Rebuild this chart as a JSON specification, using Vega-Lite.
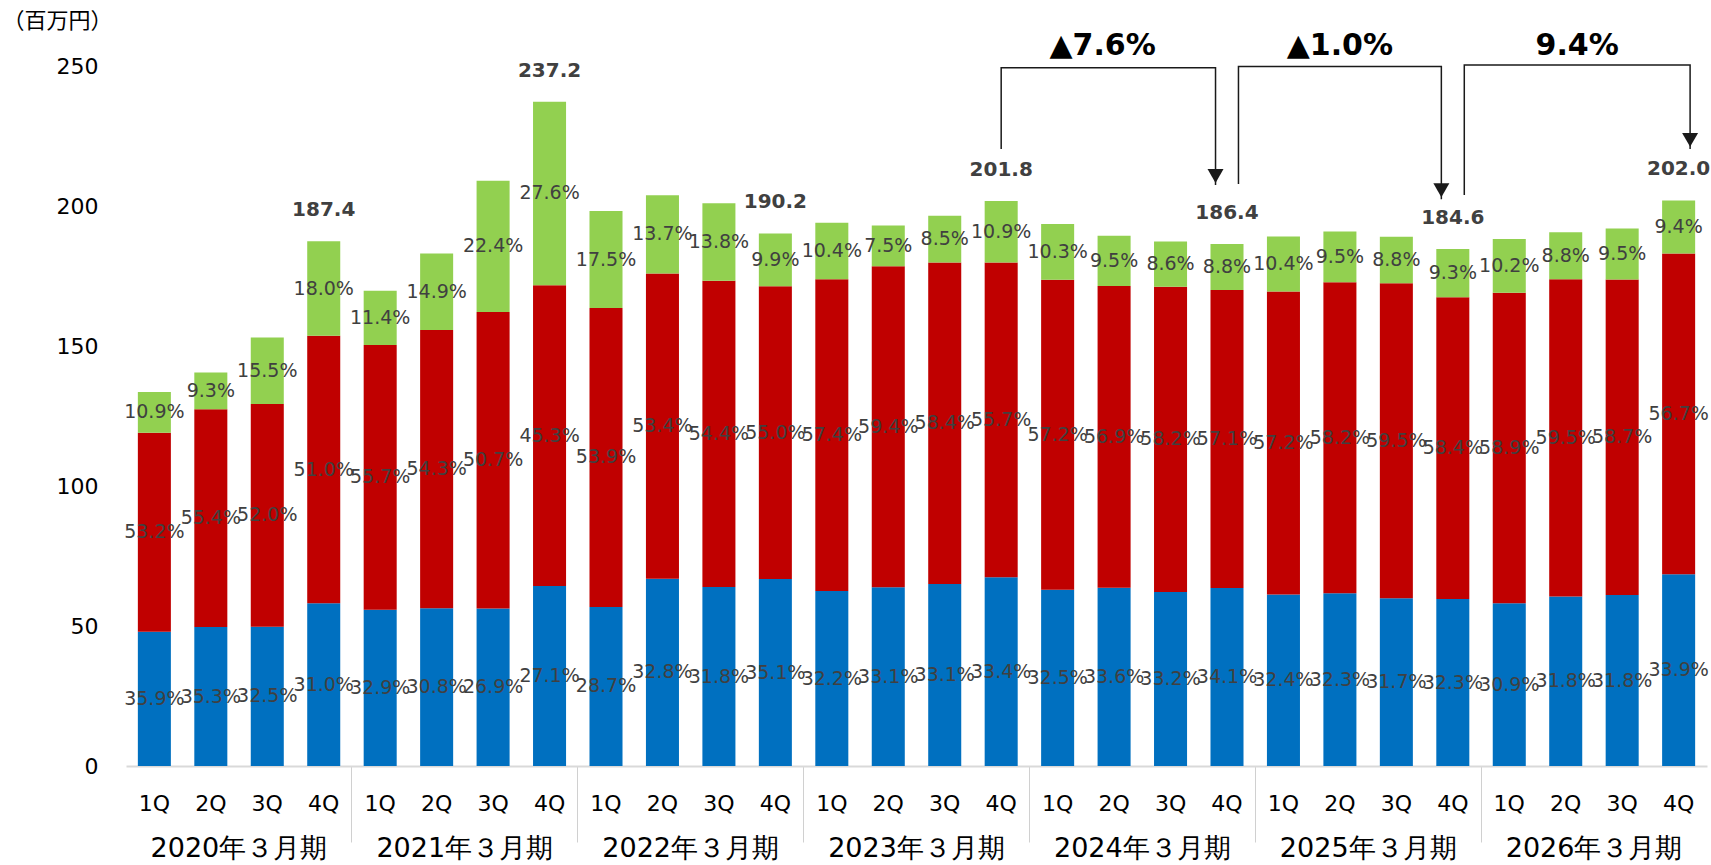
{
  "$schema": "https://vega.github.io/schema/vega-lite/v6.json",
  "width": 1581,
  "height": 700,
  "autosize": {"type": "none"},
  "padding": {"left": 126, "top": 66, "right": 4, "bottom": 99},
  "background": "white",
  "config": {"view": {"stroke": null}, "font": "DejaVu Sans", "axis": {"labelFont": "DejaVu Sans"}},
  "datasets": {
    "bars": [
      {"k":"2020|1Q","s":"a","v":47.96,"p":0.359},{"k":"2020|1Q","s":"b","v":71.08,"p":0.532},{"k":"2020|1Q","s":"c","v":14.56,"p":0.109},
      {"k":"2020|2Q","s":"a","v":49.60,"p":0.353},{"k":"2020|2Q","s":"b","v":77.84,"p":0.554},{"k":"2020|2Q","s":"c","v":13.07,"p":0.093},
      {"k":"2020|3Q","s":"a","v":49.73,"p":0.325},{"k":"2020|3Q","s":"b","v":79.56,"p":0.520},{"k":"2020|3Q","s":"c","v":23.72,"p":0.155},
      {"k":"2020|4Q","s":"a","v":58.09,"p":0.310},{"k":"2020|4Q","s":"b","v":95.57,"p":0.510},{"k":"2020|4Q","s":"c","v":33.73,"p":0.180},
      {"k":"2021|1Q","s":"a","v":55.83,"p":0.329},{"k":"2021|1Q","s":"b","v":94.52,"p":0.557},{"k":"2021|1Q","s":"c","v":19.35,"p":0.114},
      {"k":"2021|2Q","s":"a","v":56.36,"p":0.308},{"k":"2021|2Q","s":"b","v":99.37,"p":0.543},{"k":"2021|2Q","s":"c","v":27.27,"p":0.149},
      {"k":"2021|3Q","s":"a","v":56.22,"p":0.269},{"k":"2021|3Q","s":"b","v":105.96,"p":0.507},{"k":"2021|3Q","s":"c","v":46.82,"p":0.224},
      {"k":"2021|4Q","s":"a","v":64.28,"p":0.271},{"k":"2021|4Q","s":"b","v":107.45,"p":0.453},{"k":"2021|4Q","s":"c","v":65.47,"p":0.276},
      {"k":"2022|1Q","s":"a","v":56.83,"p":0.287},{"k":"2022|1Q","s":"b","v":106.72,"p":0.539},{"k":"2022|1Q","s":"c","v":34.65,"p":0.175},
      {"k":"2022|2Q","s":"a","v":66.91,"p":0.328},{"k":"2022|2Q","s":"b","v":108.94,"p":0.534},{"k":"2022|2Q","s":"c","v":27.95,"p":0.137},
      {"k":"2022|3Q","s":"a","v":63.92,"p":0.318},{"k":"2022|3Q","s":"b","v":109.34,"p":0.544},{"k":"2022|3Q","s":"c","v":27.74,"p":0.138},
      {"k":"2022|4Q","s":"a","v":66.76,"p":0.351},{"k":"2022|4Q","s":"b","v":104.61,"p":0.550},{"k":"2022|4Q","s":"c","v":18.83,"p":0.099},
      {"k":"2023|1Q","s":"a","v":62.47,"p":0.322},{"k":"2023|1Q","s":"b","v":111.36,"p":0.574},{"k":"2023|1Q","s":"c","v":20.18,"p":0.104},
      {"k":"2023|2Q","s":"a","v":63.88,"p":0.331},{"k":"2023|2Q","s":"b","v":114.64,"p":0.594},{"k":"2023|2Q","s":"c","v":14.48,"p":0.075},
      {"k":"2023|3Q","s":"a","v":65.04,"p":0.331},{"k":"2023|3Q","s":"b","v":114.76,"p":0.584},{"k":"2023|3Q","s":"c","v":16.70,"p":0.085},
      {"k":"2023|4Q","s":"a","v":67.40,"p":0.334},{"k":"2023|4Q","s":"b","v":112.40,"p":0.557},{"k":"2023|4Q","s":"c","v":22.00,"p":0.109},
      {"k":"2024|1Q","s":"a","v":62.92,"p":0.325},{"k":"2024|1Q","s":"b","v":110.74,"p":0.572},{"k":"2024|1Q","s":"c","v":19.94,"p":0.103},
      {"k":"2024|2Q","s":"a","v":63.64,"p":0.336},{"k":"2024|2Q","s":"b","v":107.77,"p":0.569},{"k":"2024|2Q","s":"c","v":17.99,"p":0.095},
      {"k":"2024|3Q","s":"a","v":62.18,"p":0.332},{"k":"2024|3Q","s":"b","v":109.01,"p":0.582},{"k":"2024|3Q","s":"c","v":16.11,"p":0.086},
      {"k":"2024|4Q","s":"a","v":63.56,"p":0.341},{"k":"2024|4Q","s":"b","v":106.43,"p":0.571},{"k":"2024|4Q","s":"c","v":16.40,"p":0.088},
      {"k":"2025|1Q","s":"a","v":61.27,"p":0.324},{"k":"2025|1Q","s":"b","v":108.17,"p":0.572},{"k":"2025|1Q","s":"c","v":19.67,"p":0.104},
      {"k":"2025|2Q","s":"a","v":61.66,"p":0.323},{"k":"2025|2Q","s":"b","v":111.10,"p":0.582},{"k":"2025|2Q","s":"c","v":18.14,"p":0.095},
      {"k":"2025|3Q","s":"a","v":59.91,"p":0.317},{"k":"2025|3Q","s":"b","v":112.46,"p":0.595},{"k":"2025|3Q","s":"c","v":16.63,"p":0.088},
      {"k":"2025|4Q","s":"a","v":59.63,"p":0.323},{"k":"2025|4Q","s":"b","v":107.81,"p":0.584},{"k":"2025|4Q","s":"c","v":17.17,"p":0.093},
      {"k":"2026|1Q","s":"a","v":58.15,"p":0.309},{"k":"2026|1Q","s":"b","v":110.85,"p":0.589},{"k":"2026|1Q","s":"c","v":19.20,"p":0.102},
      {"k":"2026|2Q","s":"a","v":60.55,"p":0.318},{"k":"2026|2Q","s":"b","v":113.29,"p":0.595},{"k":"2026|2Q","s":"c","v":16.76,"p":0.088},
      {"k":"2026|3Q","s":"a","v":61.06,"p":0.318},{"k":"2026|3Q","s":"b","v":112.70,"p":0.587},{"k":"2026|3Q","s":"c","v":18.24,"p":0.095},
      {"k":"2026|4Q","s":"a","v":68.48,"p":0.339},{"k":"2026|4Q","s":"b","v":114.53,"p":0.567},{"k":"2026|4Q","s":"c","v":18.99,"p":0.094}
    ],
    "totals": [
      {"k":"2020|4Q","t":187.4},{"k":"2021|4Q","t":237.2},{"k":"2022|4Q","t":190.2},{"k":"2023|4Q","t":201.8},
      {"k":"2024|4Q","t":186.4},{"k":"2025|4Q","t":184.6},{"k":"2026|4Q","t":202.0}
    ],
    "brackets": [
      {"b":1,"i":0,"k":"2023|4Q","o":"C","y":220.4},{"b":1,"i":1,"k":"2023|4Q","o":"C","y":249.4},
      {"b":1,"i":2,"k":"2024|4Q","o":"L","y":249.4},{"b":1,"i":3,"k":"2024|4Q","o":"L","y":207.5},
      {"b":2,"i":0,"k":"2024|4Q","o":"R","y":207.9},{"b":2,"i":1,"k":"2024|4Q","o":"R","y":249.8},
      {"b":2,"i":2,"k":"2025|4Q","o":"L","y":249.8},{"b":2,"i":3,"k":"2025|4Q","o":"L","y":202.4},
      {"b":3,"i":0,"k":"2025|4Q","o":"R","y":203.9},{"b":3,"i":1,"k":"2025|4Q","o":"R","y":250.4},
      {"b":3,"i":2,"k":"2026|4Q","o":"R","y":250.4},{"b":3,"i":3,"k":"2026|4Q","o":"R","y":220.4}
    ],
    "arrows": [
      {"k":"2024|4Q","o":"L","y":207.5},{"k":"2025|4Q","o":"L","y":202.4},{"k":"2026|4Q","o":"R","y":220.4}
    ],
    "notes": [
      {"k":"2024|2Q","o":"L","y":257.3,"t":"▲7.6%"},
      {"k":"2025|2Q","o":"C","y":257.3,"t":"▲1.0%"},
      {"k":"2026|2Q","o":"R","y":257.3,"t":"9.4%"}
    ],
    "years": [
      {"yr":"2020年３月期"},{"yr":"2021年３月期"},{"yr":"2022年３月期"},{"yr":"2023年３月期"},
      {"yr":"2024年３月期"},{"yr":"2025年３月期"},{"yr":"2026年３月期"}
    ]
  },
  "layer": [
    {
      "encoding": {
        "x": {
          "field": "k", "type": "nominal", "sort": null,
          "scale": {
            "type": "band", "paddingInner": 0.415, "paddingOuter": 0.21,
            "domain": ["2020|1Q","2020|2Q","2020|3Q","2020|4Q","2021|1Q","2021|2Q","2021|3Q","2021|4Q",
                       "2022|1Q","2022|2Q","2022|3Q","2022|4Q","2023|1Q","2023|2Q","2023|3Q","2023|4Q",
                       "2024|1Q","2024|2Q","2024|3Q","2024|4Q","2025|1Q","2025|2Q","2025|3Q","2025|4Q",
                       "2026|1Q","2026|2Q","2026|3Q","2026|4Q"]
          },
          "axis": {
            "title": null, "orient": "bottom",
            "labelExpr": "split(datum.value, '|')[1]",
            "labelFontSize": 22, "labelColor": "#000000", "labelAngle": 0,
            "labelBaseline": "middle", "labelPadding": -39, "labelOverlap": false,
            "domainColor": "#d9d9d9", "domainWidth": 2,
            "ticks": true, "tickSize": 76, "tickColor": "#d0d0d0", "tickWidth": 1,
            "bandPosition": -0.355,
            "tickOpacity": {"condition": {"test": "indexof(datum.value, '1Q') > 0 && datum.value != '2020|1Q'", "value": 1}, "value": 0},
            "grid": false
          }
        }
      },
      "layer": [
        {
          "data": {"name": "bars"},
          "mark": {"type": "bar"},
          "encoding": {
            "y": {
              "field": "v", "type": "quantitative", "stack": "zero",
              "scale": {"domain": [0, 250], "nice": false},
              "axis": {
                "values": [0, 50, 100, 150, 200, 250], "grid": false, "domain": false, "ticks": false,
                "labelFontSize": 22, "labelColor": "#000000", "labelPadding": 28,
                "title": "（百万円）", "titleAngle": 0, "titleAlign": "left", "titleBaseline": "middle",
                "titleX": -124, "titleY": -46, "titleFontSize": 22, "titleFontWeight": "normal",
                "titleColor": "#000000", "titleFont": "Noto Sans CJK JP"
              }
            },
            "color": {
              "field": "s", "type": "nominal",
              "scale": {"domain": ["a", "b", "c"], "range": ["#0070C0", "#C00000", "#92D050"]},
              "legend": null
            },
            "order": {"field": "s"}
          }
        },
        {
          "data": {"name": "bars"},
          "mark": {"type": "text", "fontSize": 19, "color": "#404040", "baseline": "middle", "font": "DejaVu Sans"},
          "encoding": {
            "y": {"field": "v", "type": "quantitative", "stack": "zero", "bandPosition": 0.5},
            "detail": {"field": "s"},
            "order": {"field": "s"},
            "text": {"field": "p", "type": "quantitative", "format": ".1%"}
          }
        },
        {
          "data": {"name": "totals"},
          "mark": {"type": "text", "fontSize": 20, "fontWeight": "bold", "color": "#404040", "baseline": "middle", "dy": -31, "font": "DejaVu Sans"},
          "encoding": {
            "y": {"field": "t", "type": "quantitative"},
            "text": {"field": "t", "type": "quantitative", "format": ".1f"}
          }
        }
      ]
    },
    {
      "encoding": {
        "x": {
          "field": "k", "type": "nominal", "sort": null,
          "scale": {
            "type": "band", "paddingInner": 0.415, "paddingOuter": 0.21,
            "domain": ["2020|1Q","2020|2Q","2020|3Q","2020|4Q","2021|1Q","2021|2Q","2021|3Q","2021|4Q",
                       "2022|1Q","2022|2Q","2022|3Q","2022|4Q","2023|1Q","2023|2Q","2023|3Q","2023|4Q",
                       "2024|1Q","2024|2Q","2024|3Q","2024|4Q","2025|1Q","2025|2Q","2025|3Q","2025|4Q",
                       "2026|1Q","2026|2Q","2026|3Q","2026|4Q"]
          },
          "axis": null
        },
        "xOffset": {"field": "o", "type": "nominal", "scale": {"domain": ["L", "C", "R"], "paddingInner": 0, "paddingOuter": 0.44}}
      },
      "layer": [
        {
          "data": {"name": "brackets"},
          "mark": {"type": "line", "color": "#1a1a1a", "strokeWidth": 1.5},
          "encoding": {
            "y": {"field": "y", "type": "quantitative"},
            "detail": {"field": "b"},
            "order": {"field": "i"}
          }
        },
        {
          "data": {"name": "arrows"},
          "mark": {"type": "point", "shape": "triangle-down", "filled": true, "size": 256, "color": "#1a1a1a", "opacity": 1, "yOffset": -9},
          "encoding": {
            "y": {"field": "y", "type": "quantitative"}
          }
        },
        {
          "data": {"name": "notes"},
          "mark": {"type": "text", "fontSize": 30, "fontWeight": "bold", "color": "#000000", "baseline": "middle", "font": "DejaVu Sans"},
          "encoding": {
            "y": {"field": "y", "type": "quantitative"},
            "text": {"field": "t"}
          }
        }
      ]
    },
    {
      "data": {"name": "years"},
      "mark": {"type": "rule", "strokeOpacity": 0},
      "encoding": {
        "x": {
          "field": "yr", "type": "nominal", "sort": null,
          "scale": {"type": "band", "paddingInner": 0, "paddingOuter": 0,
                    "domain": ["2020年３月期","2021年３月期","2022年３月期","2023年３月期","2024年３月期","2025年３月期","2026年３月期"]},
          "axis": {
            "orient": "bottom", "title": null, "domain": false, "ticks": false, "grid": false,
            "labelAngle": 0, "labelFontSize": 27, "labelColor": "#000000",
            "labelBaseline": "middle", "labelPadding": 82, "labelOverlap": false
          }
        }
      }
    }
  ],
  "resolve": {"scale": {"x": "independent", "xOffset": "independent"}, "axis": {"x": "independent"}}
}
